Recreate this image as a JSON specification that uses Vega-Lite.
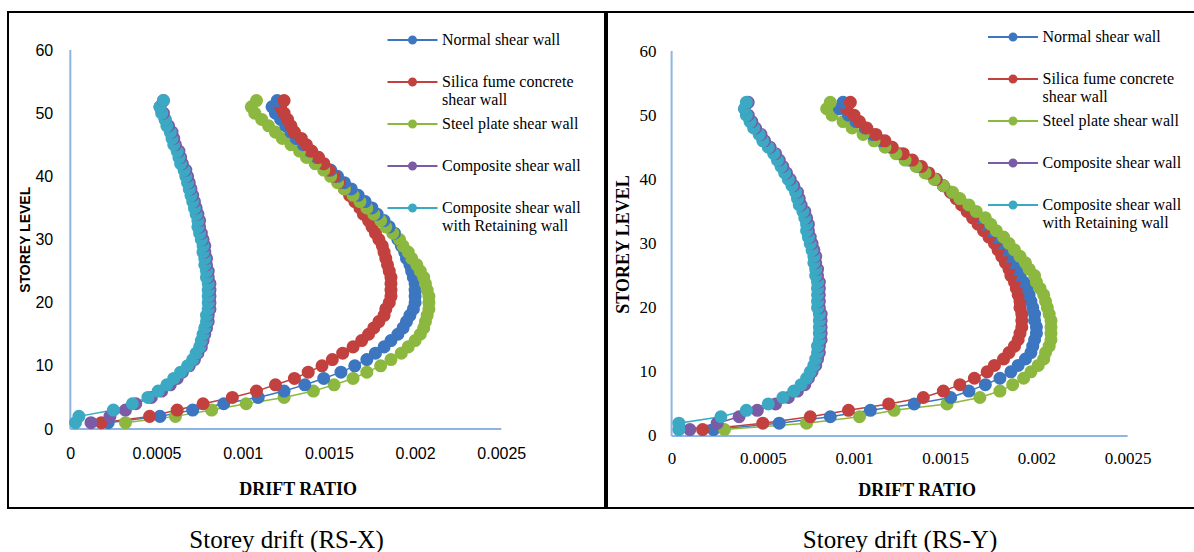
{
"$schema": "https://vega.github.io/schema/vega-lite/v6.json",
"padding": {"left": 7, "top": 11, "right": 0, "bottom": 0},
"background": "white",
"spacing": 0,
"datasets": {
"rsx": [
{"w":"a","s":1,"d":0.00022},{"w":"a","s":2,"d":0.00052},{"w":"a","s":3,"d":0.00071},{"w":"a","s":4,"d":0.00089},{"w":"a","s":5,"d":0.00109},{"w":"a","s":6,"d":0.00124},{"w":"a","s":7,"d":0.00136},{"w":"a","s":8,"d":0.00147},{"w":"a","s":9,"d":0.00157},{"w":"a","s":10,"d":0.00165},{"w":"a","s":11,"d":0.00172},{"w":"a","s":12,"d":0.00177},{"w":"a","s":13,"d":0.00182},{"w":"a","s":14,"d":0.00186},{"w":"a","s":15,"d":0.0019},{"w":"a","s":16,"d":0.00193},{"w":"a","s":17,"d":0.00195},{"w":"a","s":18,"d":0.00197},{"w":"a","s":19,"d":0.00199},{"w":"a","s":20,"d":0.002},{"w":"a","s":21,"d":0.002},{"w":"a","s":22,"d":0.002},{"w":"a","s":23,"d":0.002},{"w":"a","s":24,"d":0.00199},{"w":"a","s":25,"d":0.00198},{"w":"a","s":26,"d":0.00197},{"w":"a","s":27,"d":0.00195},{"w":"a","s":28,"d":0.00194},{"w":"a","s":29,"d":0.00192},{"w":"a","s":30,"d":0.0019},{"w":"a","s":31,"d":0.00188},{"w":"a","s":32,"d":0.00185},{"w":"a","s":33,"d":0.00182},{"w":"a","s":34,"d":0.00178},{"w":"a","s":35,"d":0.00175},{"w":"a","s":36,"d":0.00171},{"w":"a","s":37,"d":0.00167},{"w":"a","s":38,"d":0.00163},{"w":"a","s":39,"d":0.00159},{"w":"a","s":40,"d":0.00155},{"w":"a","s":41,"d":0.00151},{"w":"a","s":42,"d":0.00147},{"w":"a","s":43,"d":0.00143},{"w":"a","s":44,"d":0.00139},{"w":"a","s":45,"d":0.00135},{"w":"a","s":46,"d":0.00131},{"w":"a","s":47,"d":0.00128},{"w":"a","s":48,"d":0.00125},{"w":"a","s":49,"d":0.00122},{"w":"a","s":50,"d":0.00119},{"w":"a","s":51,"d":0.00117},{"w":"a","s":52,"d":0.0012},
{"w":"b","s":1,"d":0.00018},{"w":"b","s":2,"d":0.00046},{"w":"b","s":3,"d":0.00062},{"w":"b","s":4,"d":0.00077},{"w":"b","s":5,"d":0.00094},{"w":"b","s":6,"d":0.00108},{"w":"b","s":7,"d":0.00119},{"w":"b","s":8,"d":0.0013},{"w":"b","s":9,"d":0.00138},{"w":"b","s":10,"d":0.00146},{"w":"b","s":11,"d":0.00152},{"w":"b","s":12,"d":0.00158},{"w":"b","s":13,"d":0.00164},{"w":"b","s":14,"d":0.00169},{"w":"b","s":15,"d":0.00173},{"w":"b","s":16,"d":0.00176},{"w":"b","s":17,"d":0.00179},{"w":"b","s":18,"d":0.00182},{"w":"b","s":19,"d":0.00183},{"w":"b","s":20,"d":0.00185},{"w":"b","s":21,"d":0.00186},{"w":"b","s":22,"d":0.00186},{"w":"b","s":23,"d":0.00186},{"w":"b","s":24,"d":0.00186},{"w":"b","s":25,"d":0.00185},{"w":"b","s":26,"d":0.00184},{"w":"b","s":27,"d":0.00183},{"w":"b","s":28,"d":0.00182},{"w":"b","s":29,"d":0.00181},{"w":"b","s":30,"d":0.00179},{"w":"b","s":31,"d":0.00177},{"w":"b","s":32,"d":0.00175},{"w":"b","s":33,"d":0.00173},{"w":"b","s":34,"d":0.0017},{"w":"b","s":35,"d":0.00168},{"w":"b","s":36,"d":0.00165},{"w":"b","s":37,"d":0.00162},{"w":"b","s":38,"d":0.00159},{"w":"b","s":39,"d":0.00156},{"w":"b","s":40,"d":0.00153},{"w":"b","s":41,"d":0.0015},{"w":"b","s":42,"d":0.00147},{"w":"b","s":43,"d":0.00144},{"w":"b","s":44,"d":0.0014},{"w":"b","s":45,"d":0.00137},{"w":"b","s":46,"d":0.00134},{"w":"b","s":47,"d":0.0013},{"w":"b","s":48,"d":0.00128},{"w":"b","s":49,"d":0.00126},{"w":"b","s":50,"d":0.00124},{"w":"b","s":51,"d":0.00122},{"w":"b","s":52,"d":0.00124},
{"w":"c","s":1,"d":0.00032},{"w":"c","s":2,"d":0.00061},{"w":"c","s":3,"d":0.00082},{"w":"c","s":4,"d":0.00102},{"w":"c","s":5,"d":0.00124},{"w":"c","s":6,"d":0.00141},{"w":"c","s":7,"d":0.00153},{"w":"c","s":8,"d":0.00164},{"w":"c","s":9,"d":0.00172},{"w":"c","s":10,"d":0.0018},{"w":"c","s":11,"d":0.00186},{"w":"c","s":12,"d":0.00192},{"w":"c","s":13,"d":0.00196},{"w":"c","s":14,"d":0.002},{"w":"c","s":15,"d":0.00203},{"w":"c","s":16,"d":0.00205},{"w":"c","s":17,"d":0.00206},{"w":"c","s":18,"d":0.00207},{"w":"c","s":19,"d":0.00208},{"w":"c","s":20,"d":0.00208},{"w":"c","s":21,"d":0.00208},{"w":"c","s":22,"d":0.00207},{"w":"c","s":23,"d":0.00206},{"w":"c","s":24,"d":0.00205},{"w":"c","s":25,"d":0.00203},{"w":"c","s":26,"d":0.00201},{"w":"c","s":27,"d":0.00198},{"w":"c","s":28,"d":0.00196},{"w":"c","s":29,"d":0.00193},{"w":"c","s":30,"d":0.00191},{"w":"c","s":31,"d":0.00187},{"w":"c","s":32,"d":0.00183},{"w":"c","s":33,"d":0.0018},{"w":"c","s":34,"d":0.00176},{"w":"c","s":35,"d":0.00172},{"w":"c","s":36,"d":0.00168},{"w":"c","s":37,"d":0.00164},{"w":"c","s":38,"d":0.00159},{"w":"c","s":39,"d":0.00155},{"w":"c","s":40,"d":0.00151},{"w":"c","s":41,"d":0.00147},{"w":"c","s":42,"d":0.00142},{"w":"c","s":43,"d":0.00137},{"w":"c","s":44,"d":0.00133},{"w":"c","s":45,"d":0.00128},{"w":"c","s":46,"d":0.00123},{"w":"c","s":47,"d":0.00119},{"w":"c","s":48,"d":0.00115},{"w":"c","s":49,"d":0.00111},{"w":"c","s":50,"d":0.00107},{"w":"c","s":51,"d":0.00105},{"w":"c","s":52,"d":0.00108},
{"w":"d","s":1,"d":0.00012},{"w":"d","s":2,"d":0.00023},{"w":"d","s":3,"d":0.00032},{"w":"d","s":4,"d":0.00038},{"w":"d","s":5,"d":0.00047},{"w":"d","s":6,"d":0.00053},{"w":"d","s":7,"d":0.00058},{"w":"d","s":8,"d":0.00062},{"w":"d","s":9,"d":0.00065},{"w":"d","s":10,"d":0.00069},{"w":"d","s":11,"d":0.00072},{"w":"d","s":12,"d":0.00074},{"w":"d","s":13,"d":0.00076},{"w":"d","s":14,"d":0.00077},{"w":"d","s":15,"d":0.00078},{"w":"d","s":16,"d":0.00079},{"w":"d","s":17,"d":0.0008},{"w":"d","s":18,"d":0.0008},{"w":"d","s":19,"d":0.00081},{"w":"d","s":20,"d":0.00081},{"w":"d","s":21,"d":0.00081},{"w":"d","s":22,"d":0.00081},{"w":"d","s":23,"d":0.00081},{"w":"d","s":24,"d":0.0008},{"w":"d","s":25,"d":0.0008},{"w":"d","s":26,"d":0.00079},{"w":"d","s":27,"d":0.00079},{"w":"d","s":28,"d":0.00078},{"w":"d","s":29,"d":0.00078},{"w":"d","s":30,"d":0.00077},{"w":"d","s":31,"d":0.00076},{"w":"d","s":32,"d":0.00075},{"w":"d","s":33,"d":0.00075},{"w":"d","s":34,"d":0.00074},{"w":"d","s":35,"d":0.00073},{"w":"d","s":36,"d":0.00072},{"w":"d","s":37,"d":0.00071},{"w":"d","s":38,"d":0.0007},{"w":"d","s":39,"d":0.00069},{"w":"d","s":40,"d":0.00068},{"w":"d","s":41,"d":0.00067},{"w":"d","s":42,"d":0.00065},{"w":"d","s":43,"d":0.00064},{"w":"d","s":44,"d":0.00063},{"w":"d","s":45,"d":0.00061},{"w":"d","s":46,"d":0.0006},{"w":"d","s":47,"d":0.00059},{"w":"d","s":48,"d":0.00057},{"w":"d","s":49,"d":0.00055},{"w":"d","s":50,"d":0.00054},{"w":"d","s":51,"d":0.00052},{"w":"d","s":52,"d":0.00054},
{"w":"e","s":1,"d":0.00003},{"w":"e","s":2,"d":0.00005},{"w":"e","s":3,"d":0.00025},{"w":"e","s":4,"d":0.00036},{"w":"e","s":5,"d":0.00045},{"w":"e","s":6,"d":0.00051},{"w":"e","s":7,"d":0.00056},{"w":"e","s":8,"d":0.0006},{"w":"e","s":9,"d":0.00064},{"w":"e","s":10,"d":0.00068},{"w":"e","s":11,"d":0.00071},{"w":"e","s":12,"d":0.00073},{"w":"e","s":13,"d":0.00075},{"w":"e","s":14,"d":0.00076},{"w":"e","s":15,"d":0.00077},{"w":"e","s":16,"d":0.00078},{"w":"e","s":17,"d":0.00079},{"w":"e","s":18,"d":0.00079},{"w":"e","s":19,"d":0.0008},{"w":"e","s":20,"d":0.0008},{"w":"e","s":21,"d":0.0008},{"w":"e","s":22,"d":0.0008},{"w":"e","s":23,"d":0.0008},{"w":"e","s":24,"d":0.00079},{"w":"e","s":25,"d":0.00079},{"w":"e","s":26,"d":0.00078},{"w":"e","s":27,"d":0.00078},{"w":"e","s":28,"d":0.00077},{"w":"e","s":29,"d":0.00077},{"w":"e","s":30,"d":0.00076},{"w":"e","s":31,"d":0.00075},{"w":"e","s":32,"d":0.00074},{"w":"e","s":33,"d":0.00074},{"w":"e","s":34,"d":0.00073},{"w":"e","s":35,"d":0.00072},{"w":"e","s":36,"d":0.00071},{"w":"e","s":37,"d":0.0007},{"w":"e","s":38,"d":0.00069},{"w":"e","s":39,"d":0.00068},{"w":"e","s":40,"d":0.00067},{"w":"e","s":41,"d":0.00066},{"w":"e","s":42,"d":0.00064},{"w":"e","s":43,"d":0.00063},{"w":"e","s":44,"d":0.00062},{"w":"e","s":45,"d":0.0006},{"w":"e","s":46,"d":0.00059},{"w":"e","s":47,"d":0.00058},{"w":"e","s":48,"d":0.00056},{"w":"e","s":49,"d":0.00055},{"w":"e","s":50,"d":0.00053},{"w":"e","s":51,"d":0.00052},{"w":"e","s":52,"d":0.00054}
],
"rsy": [
{"w":"a","s":1,"d":0.00023},{"w":"a","s":2,"d":0.00059},{"w":"a","s":3,"d":0.00087},{"w":"a","s":4,"d":0.00109},{"w":"a","s":5,"d":0.00133},{"w":"a","s":6,"d":0.00153},{"w":"a","s":7,"d":0.00163},{"w":"a","s":8,"d":0.00172},{"w":"a","s":9,"d":0.0018},{"w":"a","s":10,"d":0.00186},{"w":"a","s":11,"d":0.0019},{"w":"a","s":12,"d":0.00194},{"w":"a","s":13,"d":0.00197},{"w":"a","s":14,"d":0.00198},{"w":"a","s":15,"d":0.00199},{"w":"a","s":16,"d":0.002},{"w":"a","s":17,"d":0.002},{"w":"a","s":18,"d":0.00199},{"w":"a","s":19,"d":0.00199},{"w":"a","s":20,"d":0.00198},{"w":"a","s":21,"d":0.00197},{"w":"a","s":22,"d":0.00196},{"w":"a","s":23,"d":0.00195},{"w":"a","s":24,"d":0.00193},{"w":"a","s":25,"d":0.00191},{"w":"a","s":26,"d":0.00189},{"w":"a","s":27,"d":0.00187},{"w":"a","s":28,"d":0.00185},{"w":"a","s":29,"d":0.00183},{"w":"a","s":30,"d":0.0018},{"w":"a","s":31,"d":0.00178},{"w":"a","s":32,"d":0.00175},{"w":"a","s":33,"d":0.00171},{"w":"a","s":34,"d":0.00168},{"w":"a","s":35,"d":0.00164},{"w":"a","s":36,"d":0.00161},{"w":"a","s":37,"d":0.00157},{"w":"a","s":38,"d":0.00153},{"w":"a","s":39,"d":0.00149},{"w":"a","s":40,"d":0.00145},{"w":"a","s":41,"d":0.0014},{"w":"a","s":42,"d":0.00135},{"w":"a","s":43,"d":0.0013},{"w":"a","s":44,"d":0.00125},{"w":"a","s":45,"d":0.0012},{"w":"a","s":46,"d":0.00115},{"w":"a","s":47,"d":0.0011},{"w":"a","s":48,"d":0.00106},{"w":"a","s":49,"d":0.00101},{"w":"a","s":50,"d":0.00097},{"w":"a","s":51,"d":0.00092},{"w":"a","s":52,"d":0.00094},
{"w":"b","s":1,"d":0.00017},{"w":"b","s":2,"d":0.0005},{"w":"b","s":3,"d":0.00076},{"w":"b","s":4,"d":0.00097},{"w":"b","s":5,"d":0.00119},{"w":"b","s":6,"d":0.00138},{"w":"b","s":7,"d":0.00149},{"w":"b","s":8,"d":0.00158},{"w":"b","s":9,"d":0.00166},{"w":"b","s":10,"d":0.00173},{"w":"b","s":11,"d":0.00177},{"w":"b","s":12,"d":0.00182},{"w":"b","s":13,"d":0.00185},{"w":"b","s":14,"d":0.00188},{"w":"b","s":15,"d":0.0019},{"w":"b","s":16,"d":0.00191},{"w":"b","s":17,"d":0.00192},{"w":"b","s":18,"d":0.00192},{"w":"b","s":19,"d":0.00192},{"w":"b","s":20,"d":0.00191},{"w":"b","s":21,"d":0.00191},{"w":"b","s":22,"d":0.0019},{"w":"b","s":23,"d":0.00189},{"w":"b","s":24,"d":0.00188},{"w":"b","s":25,"d":0.00186},{"w":"b","s":26,"d":0.00185},{"w":"b","s":27,"d":0.00183},{"w":"b","s":28,"d":0.00181},{"w":"b","s":29,"d":0.00179},{"w":"b","s":30,"d":0.00177},{"w":"b","s":31,"d":0.00174},{"w":"b","s":32,"d":0.00171},{"w":"b","s":33,"d":0.00168},{"w":"b","s":34,"d":0.00165},{"w":"b","s":35,"d":0.00162},{"w":"b","s":36,"d":0.00159},{"w":"b","s":37,"d":0.00156},{"w":"b","s":38,"d":0.00153},{"w":"b","s":39,"d":0.00149},{"w":"b","s":40,"d":0.00145},{"w":"b","s":41,"d":0.00141},{"w":"b","s":42,"d":0.00137},{"w":"b","s":43,"d":0.00132},{"w":"b","s":44,"d":0.00127},{"w":"b","s":45,"d":0.00121},{"w":"b","s":46,"d":0.00117},{"w":"b","s":47,"d":0.00112},{"w":"b","s":48,"d":0.00107},{"w":"b","s":49,"d":0.00103},{"w":"b","s":50,"d":0.001},{"w":"b","s":51,"d":0.00096},{"w":"b","s":52,"d":0.00098},
{"w":"c","s":1,"d":0.00029},{"w":"c","s":2,"d":0.00074},{"w":"c","s":3,"d":0.00103},{"w":"c","s":4,"d":0.00122},{"w":"c","s":5,"d":0.00151},{"w":"c","s":6,"d":0.00169},{"w":"c","s":7,"d":0.0018},{"w":"c","s":8,"d":0.00187},{"w":"c","s":9,"d":0.00193},{"w":"c","s":10,"d":0.00197},{"w":"c","s":11,"d":0.00201},{"w":"c","s":12,"d":0.00204},{"w":"c","s":13,"d":0.00205},{"w":"c","s":14,"d":0.00207},{"w":"c","s":15,"d":0.00208},{"w":"c","s":16,"d":0.00208},{"w":"c","s":17,"d":0.00208},{"w":"c","s":18,"d":0.00208},{"w":"c","s":19,"d":0.00207},{"w":"c","s":20,"d":0.00206},{"w":"c","s":21,"d":0.00205},{"w":"c","s":22,"d":0.00204},{"w":"c","s":23,"d":0.00202},{"w":"c","s":24,"d":0.002},{"w":"c","s":25,"d":0.00199},{"w":"c","s":26,"d":0.00196},{"w":"c","s":27,"d":0.00194},{"w":"c","s":28,"d":0.00191},{"w":"c","s":29,"d":0.00188},{"w":"c","s":30,"d":0.00185},{"w":"c","s":31,"d":0.00182},{"w":"c","s":32,"d":0.00178},{"w":"c","s":33,"d":0.00175},{"w":"c","s":34,"d":0.00172},{"w":"c","s":35,"d":0.00167},{"w":"c","s":36,"d":0.00163},{"w":"c","s":37,"d":0.00158},{"w":"c","s":38,"d":0.00154},{"w":"c","s":39,"d":0.00149},{"w":"c","s":40,"d":0.00144},{"w":"c","s":41,"d":0.00139},{"w":"c","s":42,"d":0.00134},{"w":"c","s":43,"d":0.00128},{"w":"c","s":44,"d":0.00123},{"w":"c","s":45,"d":0.00117},{"w":"c","s":46,"d":0.00111},{"w":"c","s":47,"d":0.00105},{"w":"c","s":48,"d":0.00099},{"w":"c","s":49,"d":0.00094},{"w":"c","s":50,"d":0.00088},{"w":"c","s":51,"d":0.00085},{"w":"c","s":52,"d":0.00087},
{"w":"d","s":1,"d":0.0001},{"w":"d","s":2,"d":0.00025},{"w":"d","s":3,"d":0.00037},{"w":"d","s":4,"d":0.00047},{"w":"d","s":5,"d":0.00057},{"w":"d","s":6,"d":0.00064},{"w":"d","s":7,"d":0.00069},{"w":"d","s":8,"d":0.00073},{"w":"d","s":9,"d":0.00075},{"w":"d","s":10,"d":0.00077},{"w":"d","s":11,"d":0.00079},{"w":"d","s":12,"d":0.0008},{"w":"d","s":13,"d":0.00081},{"w":"d","s":14,"d":0.00081},{"w":"d","s":15,"d":0.00082},{"w":"d","s":16,"d":0.00082},{"w":"d","s":17,"d":0.00082},{"w":"d","s":18,"d":0.00082},{"w":"d","s":19,"d":0.00082},{"w":"d","s":20,"d":0.00081},{"w":"d","s":21,"d":0.00081},{"w":"d","s":22,"d":0.00081},{"w":"d","s":23,"d":0.00081},{"w":"d","s":24,"d":0.00081},{"w":"d","s":25,"d":0.0008},{"w":"d","s":26,"d":0.0008},{"w":"d","s":27,"d":0.00079},{"w":"d","s":28,"d":0.00079},{"w":"d","s":29,"d":0.00078},{"w":"d","s":30,"d":0.00077},{"w":"d","s":31,"d":0.00076},{"w":"d","s":32,"d":0.00075},{"w":"d","s":33,"d":0.00075},{"w":"d","s":34,"d":0.00074},{"w":"d","s":35,"d":0.00073},{"w":"d","s":36,"d":0.00071},{"w":"d","s":37,"d":0.0007},{"w":"d","s":38,"d":0.00069},{"w":"d","s":39,"d":0.00067},{"w":"d","s":40,"d":0.00065},{"w":"d","s":41,"d":0.00063},{"w":"d","s":42,"d":0.00061},{"w":"d","s":43,"d":0.00059},{"w":"d","s":44,"d":0.00057},{"w":"d","s":45,"d":0.00054},{"w":"d","s":46,"d":0.00051},{"w":"d","s":47,"d":0.00049},{"w":"d","s":48,"d":0.00046},{"w":"d","s":49,"d":0.00044},{"w":"d","s":50,"d":0.00042},{"w":"d","s":51,"d":0.0004},{"w":"d","s":52,"d":0.00042},
{"w":"e","s":1,"d":0.00004},{"w":"e","s":2,"d":0.00004},{"w":"e","s":3,"d":0.00027},{"w":"e","s":4,"d":0.00041},{"w":"e","s":5,"d":0.00053},{"w":"e","s":6,"d":0.00061},{"w":"e","s":7,"d":0.00067},{"w":"e","s":8,"d":0.00071},{"w":"e","s":9,"d":0.00074},{"w":"e","s":10,"d":0.00076},{"w":"e","s":11,"d":0.00078},{"w":"e","s":12,"d":0.00079},{"w":"e","s":13,"d":0.0008},{"w":"e","s":14,"d":0.0008},{"w":"e","s":15,"d":0.00081},{"w":"e","s":16,"d":0.00081},{"w":"e","s":17,"d":0.00081},{"w":"e","s":18,"d":0.00081},{"w":"e","s":19,"d":0.00081},{"w":"e","s":20,"d":0.0008},{"w":"e","s":21,"d":0.0008},{"w":"e","s":22,"d":0.0008},{"w":"e","s":23,"d":0.0008},{"w":"e","s":24,"d":0.0008},{"w":"e","s":25,"d":0.00079},{"w":"e","s":26,"d":0.00079},{"w":"e","s":27,"d":0.00078},{"w":"e","s":28,"d":0.00078},{"w":"e","s":29,"d":0.00077},{"w":"e","s":30,"d":0.00076},{"w":"e","s":31,"d":0.00075},{"w":"e","s":32,"d":0.00074},{"w":"e","s":33,"d":0.00074},{"w":"e","s":34,"d":0.00073},{"w":"e","s":35,"d":0.00072},{"w":"e","s":36,"d":0.0007},{"w":"e","s":37,"d":0.00069},{"w":"e","s":38,"d":0.00068},{"w":"e","s":39,"d":0.00066},{"w":"e","s":40,"d":0.00064},{"w":"e","s":41,"d":0.00062},{"w":"e","s":42,"d":0.0006},{"w":"e","s":43,"d":0.00058},{"w":"e","s":44,"d":0.00056},{"w":"e","s":45,"d":0.00053},{"w":"e","s":46,"d":0.0005},{"w":"e","s":47,"d":0.00048},{"w":"e","s":48,"d":0.00045},{"w":"e","s":49,"d":0.00043},{"w":"e","s":50,"d":0.00041},{"w":"e","s":51,"d":0.0004},{"w":"e","s":52,"d":0.00041}
]
},
"config": {
  "view": {"stroke": "#000", "strokeWidth": 2},
  "axis": {"grid": false, "ticks": false, "domain": false, "labelColor": "#000", "titleColor": "#000", "labelFlush": false, "labelOverlap": false},
  "legend": {
    "orient": "none",
    "title": null,
    "padding": 0,
    "symbolType": "M-5,0H5M0.7,0A0.7,0.7,0,1,1,-0.7,0A0.7,0.7,0,1,1,0.7,0Z",
    "symbolSize": 100,
    "symbolStrokeWidth": 2,
    "labelFont": "Liberation Serif",
    "labelFontSize": 16,
    "labelColor": "#000",
    "labelOffset": 21.5,
    "labelLimit": 400,
    "rowPadding": 8
  }
},
"resolve": {"scale": {"color": "shared"}, "legend": {"color": "independent"}},
"hconcat": [
{
  "width": 597, "height": 496,
  "title": {"text": "Storey drift (RS-X)", "orient": "bottom", "font": "Liberation Serif", "fontSize": 25, "fontWeight": "normal", "color": "#000", "baseline": "alphabetic", "offset": 40, "dx": -20},
  "layer": [
    {"data": {"values": [{}]}, "mark": {"type": "rule", "color": "#8EB4E3", "strokeWidth": 2}, "encoding": {"x": {"datum": 0, "type": "quantitative"}, "y": {"datum": 0, "type": "quantitative"}, "y2": {"datum": 60}}},
    {"data": {"values": [{}]}, "mark": {"type": "rule", "color": "#8EB4E3", "strokeWidth": 2}, "encoding": {"x": {"datum": 0, "type": "quantitative"}, "x2": {"datum": 0.0025}, "y": {"datum": 0, "type": "quantitative"}}},
    {
      "data": {"name": "rsx"},
      "encoding": {
        "x": {"field": "d", "type": "quantitative", "scale": {"domain": [-0.0003614, 0.0031015], "nice": false, "zero": false},
              "axis": {"values": [0, 0.0005, 0.001, 0.0015, 0.002, 0.0025], "format": "~g", "offset": -79, "labelPadding": 16, "labelFont": "Liberation Sans", "labelFontSize": 16,
                       "title": "DRIFT RATIO", "titleFont": "Liberation Serif", "titleFontSize": 18, "titleFontWeight": "bold", "titleX": 289.6, "titleY": 65.3, "titleBaseline": "alphabetic", "titleAlign": "center"}},
        "y": {"field": "s", "type": "quantitative", "scale": {"domain": [-12.506, 66.016], "nice": false, "zero": false},
              "axis": {"values": [0, 10, 20, 30, 40, 50, 60], "offset": -62.3, "labelPadding": 17.6, "labelFont": "Liberation Sans", "labelFontSize": 16,
                       "title": "STOREY LEVEL", "titleFont": "Liberation Sans", "titleFontSize": 14, "titleFontWeight": "bold", "titleAngle": 270, "titleX": -45.3, "titleY": 227.3, "titleBaseline": "middle", "titleAlign": "center"}},
        "color": {"field": "w", "type": "nominal",
                  "scale": {"domain": ["a", "b", "c", "d", "e"], "range": ["#3D76C0", "#C2403D", "#8CB83F", "#7B5BA6", "#3CA9C4"]},
                  "legend": {"legendX": 396.5, "legendY": 20,
                             "labelExpr": "datum.value == 'a' ? ['Normal shear wall', ''] : datum.value == 'b' ? ['Silica fume concrete', 'shear wall'] : datum.value == 'c' ? ['Steel plate shear wall', ''] : datum.value == 'd' ? ['Composite shear wall', ''] : ['Composite shear wall', 'with Retaining wall']",
                             "encode": {"symbols": {"update": {"fill": {"scale": "color", "field": "value"}, "stroke": {"scale": "color", "field": "value"}, "opacity": {"value": 1}}},
                                        "labels": {"update": {"lineHeight": {"value": 18}}}}}},
        "order": {"field": "s", "type": "quantitative"}
      },
      "layer": [
        {"mark": {"type": "line", "strokeWidth": 1.5}},
        {"mark": {"type": "point", "filled": true, "size": 170, "opacity": 1}}
      ]
    }
  ]
},
{
  "width": 590, "height": 496,
  "title": {"text": "Storey drift (RS-Y)", "orient": "bottom", "font": "Liberation Serif", "fontSize": 25, "fontWeight": "normal", "color": "#000", "baseline": "alphabetic", "offset": 40, "dx": -2},
  "layer": [
    {"data": {"values": [{}]}, "mark": {"type": "rule", "color": "#8EB4E3", "strokeWidth": 2}, "encoding": {"x": {"datum": 0, "type": "quantitative"}, "y": {"datum": 0, "type": "quantitative"}, "y2": {"datum": 60}}},
    {"data": {"values": [{}]}, "mark": {"type": "rule", "color": "#8EB4E3", "strokeWidth": 2}, "encoding": {"x": {"datum": 0, "type": "quantitative"}, "x2": {"datum": 0.0025}, "y": {"datum": 0, "type": "quantitative"}}},
    {
      "data": {"name": "rsy"},
      "encoding": {
        "x": {"field": "d", "type": "quantitative", "scale": {"domain": [-0.0003542, 0.0028805], "nice": false, "zero": false},
              "axis": {"values": [0, 0.0005, 0.001, 0.0015, 0.002, 0.0025], "format": "~g", "offset": -72, "labelPadding": 14, "labelFont": "Liberation Serif", "labelFontSize": 17,
                       "title": "DRIFT RATIO", "titleFont": "Liberation Serif", "titleFontSize": 18, "titleFontWeight": "bold", "titleX": 309.6, "titleY": 59.3, "titleBaseline": "alphabetic", "titleAlign": "center"}},
        "y": {"field": "s", "type": "quantitative", "scale": {"domain": [-11.221, 66.078], "nice": false, "zero": false},
              "axis": {"values": [0, 10, 20, 30, 40, 50, 60], "offset": -64.6, "labelPadding": 15.6, "labelFont": "Liberation Serif", "labelFontSize": 17,
                       "title": "STOREY LEVEL", "titleFont": "Liberation Serif", "titleFontSize": 18, "titleFontWeight": "bold", "titleAngle": 270, "titleX": -48.6, "titleY": 232, "titleBaseline": "middle", "titleAlign": "center"}},
        "color": {"field": "w", "type": "nominal",
                  "scale": {"domain": ["a", "b", "c", "d", "e"], "range": ["#3D76C0", "#C2403D", "#8CB83F", "#7B5BA6", "#3CA9C4"]},
                  "legend": {"legendX": 398, "legendY": 17,
                             "labelExpr": "datum.value == 'a' ? ['Normal shear wall', ''] : datum.value == 'b' ? ['Silica fume concrete', 'shear wall'] : datum.value == 'c' ? ['Steel plate shear wall', ''] : datum.value == 'd' ? ['Composite shear wall', ''] : ['Composite shear wall', 'with Retaining wall']",
                             "encode": {"symbols": {"update": {"fill": {"scale": "color", "field": "value"}, "stroke": {"scale": "color", "field": "value"}, "opacity": {"value": 1}}},
                                        "labels": {"update": {"lineHeight": {"value": 18}}}}}},
        "order": {"field": "s", "type": "quantitative"}
      },
      "layer": [
        {"mark": {"type": "line", "strokeWidth": 1.5}},
        {"mark": {"type": "point", "filled": true, "size": 170, "opacity": 1}}
      ]
    }
  ]
}
]
}
